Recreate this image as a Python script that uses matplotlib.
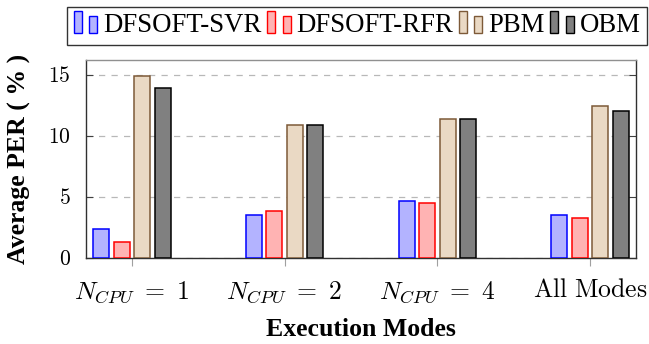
import matplotlib.pyplot as plt
import matplotlib.patches as mpatches
from matplotlib.legend_handler import HandlerBase
import numpy as np

plt.rcParams['font.family'] = ['Liberation Serif', 'DejaVu Serif']
plt.rcParams['mathtext.fontset'] = 'cm'

modes = [r'$N_{CPU}\ =\ 1$', r'$N_{CPU}\ =\ 2$', r'$N_{CPU}\ =\ 4$', r'$\mathrm{All\ Modes}$']
series = ['DFSOFT-SVR', 'DFSOFT-RFR', 'PBM', 'OBM']
svr = [2.4, 3.55, 4.7, 3.55]
rfr = [1.35, 3.85, 4.5, 3.25]
pbm = [14.9, 10.9, 11.4, 12.4]
obm = [13.95, 10.85, 11.35, 12.05]
values = [svr, rfr, pbm, obm]
yticks = [0, 5, 10, 15]
fills = ['#b3b3ff', '#ffb3b3', '#ead9c4', '#808080']
edges = ['#0000ff', '#ff0000', '#7d5a38', '#000000']


class TwoBars(HandlerBase):
    # pgfplots style legend image: two small bars
    def create_artists(self, legend, orig, xd, yd, w, h, fs, trans):
        out = []
        bw = w * 0.33
        specs = [(0.0, 1.2 * h), (0.65 * w, 0.92 * h)]
        for x0, hh in specs:
            r = mpatches.Rectangle((x0 - xd, -yd - 0.05 * h), bw, hh,
                                   facecolor=orig.get_facecolor(), edgecolor=orig.get_edgecolor(),
                                   lw=1, transform=trans)
            out.append(r)
        return out


fig = plt.figure(figsize=(6.49, 3.44), dpi=100)
ax = fig.add_axes([86 / 649, 1 - 258 / 344, 550 / 649, 198 / 344])

x = np.arange(len(modes))
w = 0.105
step = 0.134
handles = []
for i, s in enumerate(series):
    b = ax.bar(x + (i - 1.5) * step, values[i], width=w, color=fills[i],
               edgecolor=edges[i], linewidth=1.1, label=s, zorder=3)
    handles.append(b.patches[0])

ax.set_xlim(-0.30, 3.30)
ax.set_ylim(0, 16.2)
ax.set_yticks(yticks)
ax.set_yticklabels(['$%d$' % v for v in yticks])
ax.set_xticks(x)
ax.set_xticklabels(modes)
ax.yaxis.grid(True, linestyle=(0, (5, 5)), color='#b8b8b8', lw=0.9, zorder=0)
ax.tick_params(axis='y', direction='in', right=True, labelsize=15.5, length=5, color='#404040', pad=11)
ax.tick_params(axis='x', direction='out', labelsize=18.5, length=6, color='#a0a0a0', pad=9)
for sp in ax.spines.values():
    sp.set_color('#303030')
    sp.set_linewidth(1)
ax.spines['top'].set_color('#909090')

ax.set_ylabel('Average PER ( % )', fontsize=18.5, fontweight='bold', labelpad=12)
ax.set_xlabel('Execution Modes', fontsize=18.5, fontweight='bold', labelpad=10)

leg = fig.legend(handles, series, loc='center', bbox_to_anchor=(357 / 649, 1 - 26 / 344),
                 ncol=4, prop={'family': 'Liberation Serif', 'size': 19.3},
                 frameon=True, fancybox=False, edgecolor='black',
                 handler_map={mpatches.Rectangle: TwoBars()}, handlelength=0.9,
                 handletextpad=0.2, columnspacing=0.2, borderpad=0.25, borderaxespad=0)
leg.get_frame().set_linewidth(1)

fig.savefig('out.png', dpi=100)
